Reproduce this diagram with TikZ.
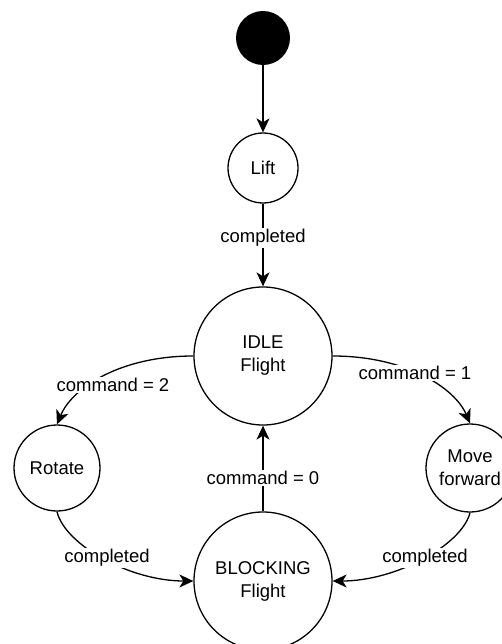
\documentclass[tikz,border=0pt]{standalone}
\usepackage{fontspec}
\setmainfont{Liberation Sans}
\usetikzlibrary{arrows.meta}
\begin{document}
\begin{tikzpicture}[x=1pt,y=-1pt,
  every node/.style={font=\fontsize{18.5}{23}\selectfont},
  state/.style={draw,circle,line width=1.3pt,inner sep=0pt,align=center},
  lbl/.style={fill=white,inner sep=1.5pt},
  conn/.style={line width=1.3pt,-{Stealth[length=14pt,width=13pt,inset=4pt]}}]
\useasboundingbox (0,0) rectangle (502,644);
\node[circle,fill=black,minimum size=54pt,inner sep=0pt] (init) at (263,38) {};
\node[state,minimum size=70pt] (lift) at (263,168) {Lift};
\node[state,minimum size=138pt] (idle) at (263,356) {IDLE\\Flight};
\node[state,minimum size=138pt] (block) at (263,581) {BLOCKING\\Flight};
\node[state,minimum size=86pt] (rot) at (57,468) {Rotate};
\node[state,minimum size=88pt] (move) at (470,468) {Move\\forward};
\draw[conn] (init) -- (lift);
\draw[conn] (lift) -- (idle);
\draw[conn] (block) -- (idle);
\draw[conn] (idle.west) .. controls (120,356) and (72,388) .. (rot.north);
\draw[conn] (idle.east) .. controls (406,356) and (455,388) .. (move.north);
\draw[conn] (rot.south) .. controls (65,545) and (130,581) .. (block.west);
\draw[conn] (move.south) .. controls (462,545) and (396,581) .. (block.east);
\node[lbl] (l1) at (263,238) {completed};
\node[lbl] (l2) at (113,385) {command = 2};
\node[lbl] (l3) at (415,373) {command = 1};
\node[lbl] (l4) at (263,478) {command = 0};
\node[lbl] (l5) at (107,558) {completed};
\node[lbl] (l6) at (425,558) {completed};
\end{tikzpicture}
\end{document}
